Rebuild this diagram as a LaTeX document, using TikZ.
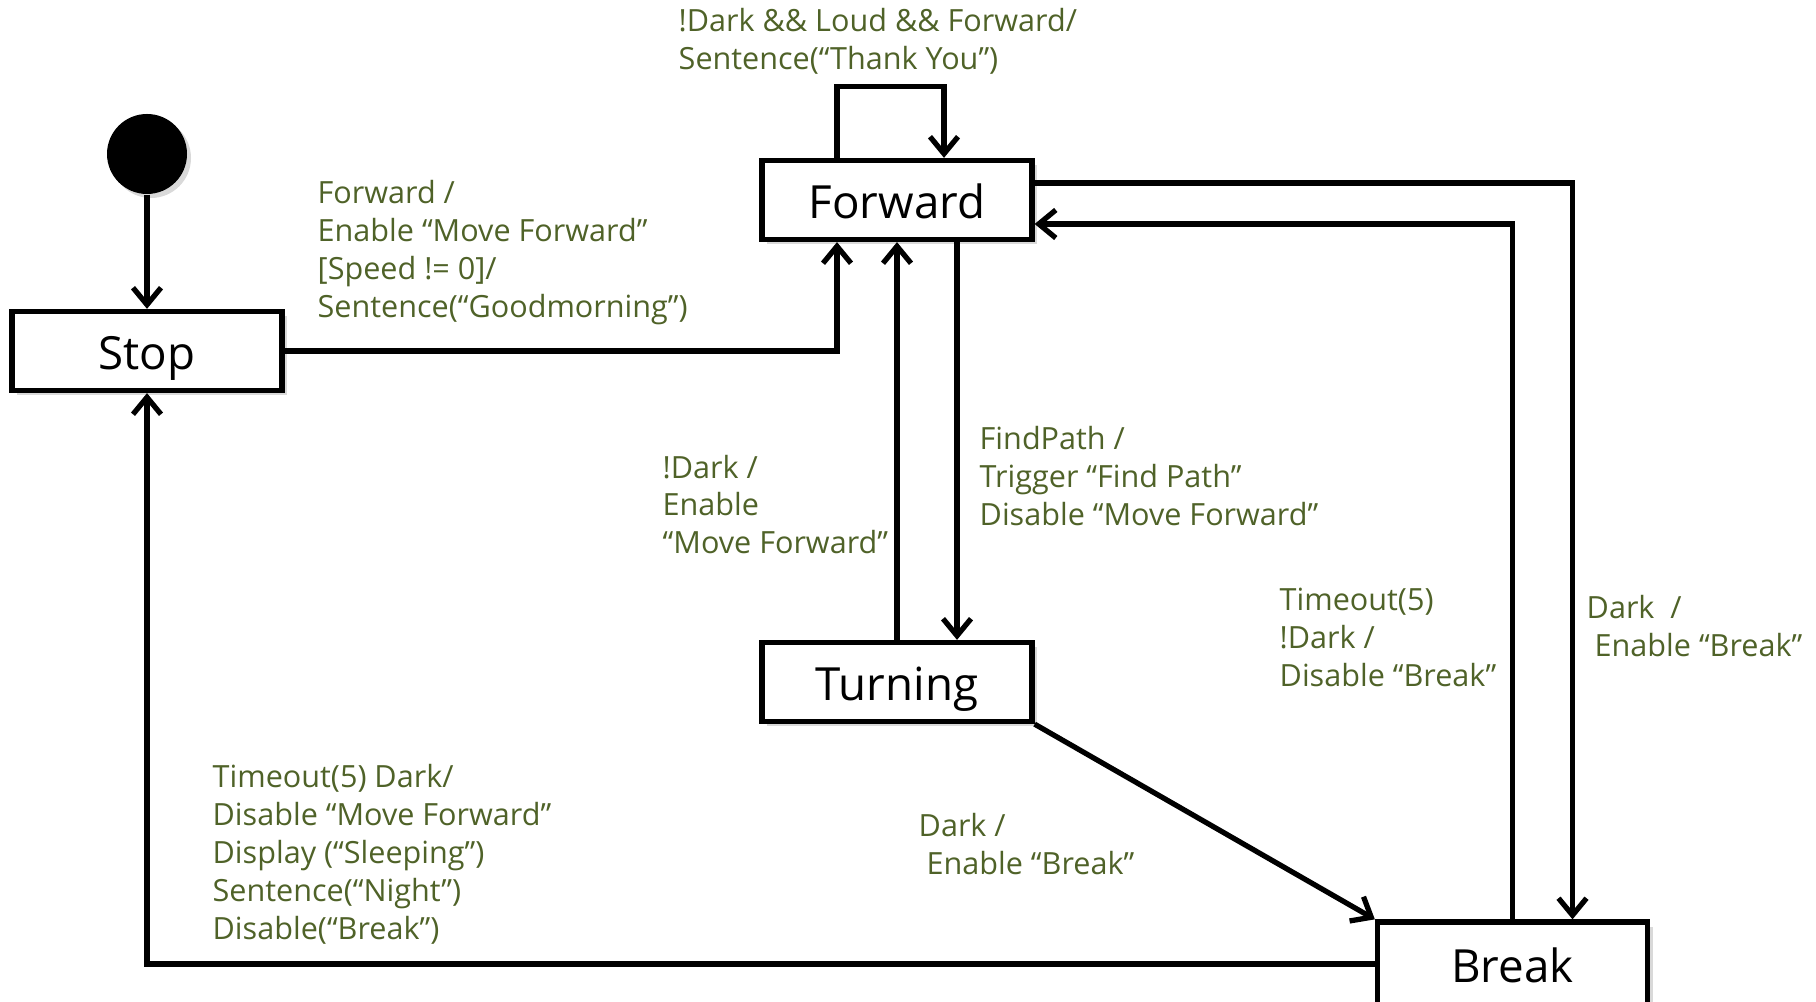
\documentclass[tikz,border=0pt]{standalone}
\usepackage{fontspec}
\setmainfont{Open Sans}
\usepackage{xcolor}
\definecolor{guardgreen}{RGB}{79,98,40}
\usetikzlibrary{arrows.meta,positioning,shadows,calc}
\tikzset{
  state/.style={draw,line width=1.5pt,fill=white,minimum width=2.7cm,%
    minimum height=0.79cm,inner sep=0pt,text height=10.6pt,text depth=0pt,%
    font=\fontsize{13}{15}\selectfont,%
    drop shadow={shadow xshift=0.05cm,shadow yshift=-0.05cm,opacity=0.3}},
  start/.style={circle,fill=black,minimum size=0.8cm,inner sep=0pt,%
    drop shadow={shadow xshift=0.04cm,shadow yshift=-0.04cm,opacity=0.3}},
  guard/.style={text=guardgreen,font=\fontsize{8.7}{10.8}\selectfont,%
    align=left,anchor=west,inner sep=0pt},
  flow/.style={-{Straight Barb[length=1.7mm,width=2.8mm]},line width=1.5pt},
}

\begin{document}
\begin{tikzpicture}
\useasboundingbox (0,0) rectangle (18.16,10.02);
\clip (0,0) rectangle (18.16,10.02);
% states
\node[start] (init) at (1.47,8.48) {};
\node[state] (stop) at (1.47,6.51) {Stop};
\node[state] (fwd)  at (8.97,8.02) {Forward};
\node[state] (turn) at (8.97,3.20) {Turning};
\node[state,minimum height=0.84cm] (brk) at (15.125,0.38) {Break};
% transitions
\draw[flow] (init) -- (stop);
\draw[flow] (stop.east) -| ($(fwd.south)+(-0.6,0)$);
\draw[flow] ($(fwd.north)+(-0.6,0)$) -- ++(0,0.715) -| ($(fwd.north)+(0.47,0)$);
\draw[flow] (turn) -- (fwd);
\draw[flow] ($(fwd.south)+(0.6,0)$) -- ($(turn.north)+(0.6,0)$);
\draw[flow] ($(fwd.east)+(0,0.17)$) -| ($(brk.north)+(0.6,0)$);
\draw[flow] (brk.north) |- ($(fwd.east)+(0,-0.24)$);
\draw[flow] (turn.south east) -- (brk.north west);
\draw[flow] (brk.west) -| (stop.south);
% guards / actions
\node[guard] (gloop) at (6.78,9.605) {!Dark \&\& Loud \&\& Forward/\\Sentence(“Thank You”)};
\node[guard] (gstart) at (3.17,7.495) {Forward /\\Enable “Move Forward”\\{[}Speed != 0{]}/\\Sentence(“Goodmorning”)};
\node[guard] (gback) at (6.62,4.975) {!Dark /\\Enable\\“Move Forward”};
\node[guard] (gpath) at (9.79,5.26) {FindPath /\\Trigger “Find Path”\\Disable “Move Forward”};
\node[guard] (gwake) at (12.79,3.645) {Timeout(5)\\!Dark /\\Disable “Break”};
\node[guard] (gdark) at (15.86,3.755) {Dark\ \ /\\\ Enable “Break”};
\node[guard] (gturn) at (9.18,1.575) {Dark /\\\ Enable “Break”};
\node[guard] (gsleep) at (2.12,1.48) {Timeout(5) Dark/\\Disable “Move Forward”\\Display (“Sleeping”)\\Sentence(“Night”)\\Disable(“Break”)};
\end{tikzpicture}
\end{document}
